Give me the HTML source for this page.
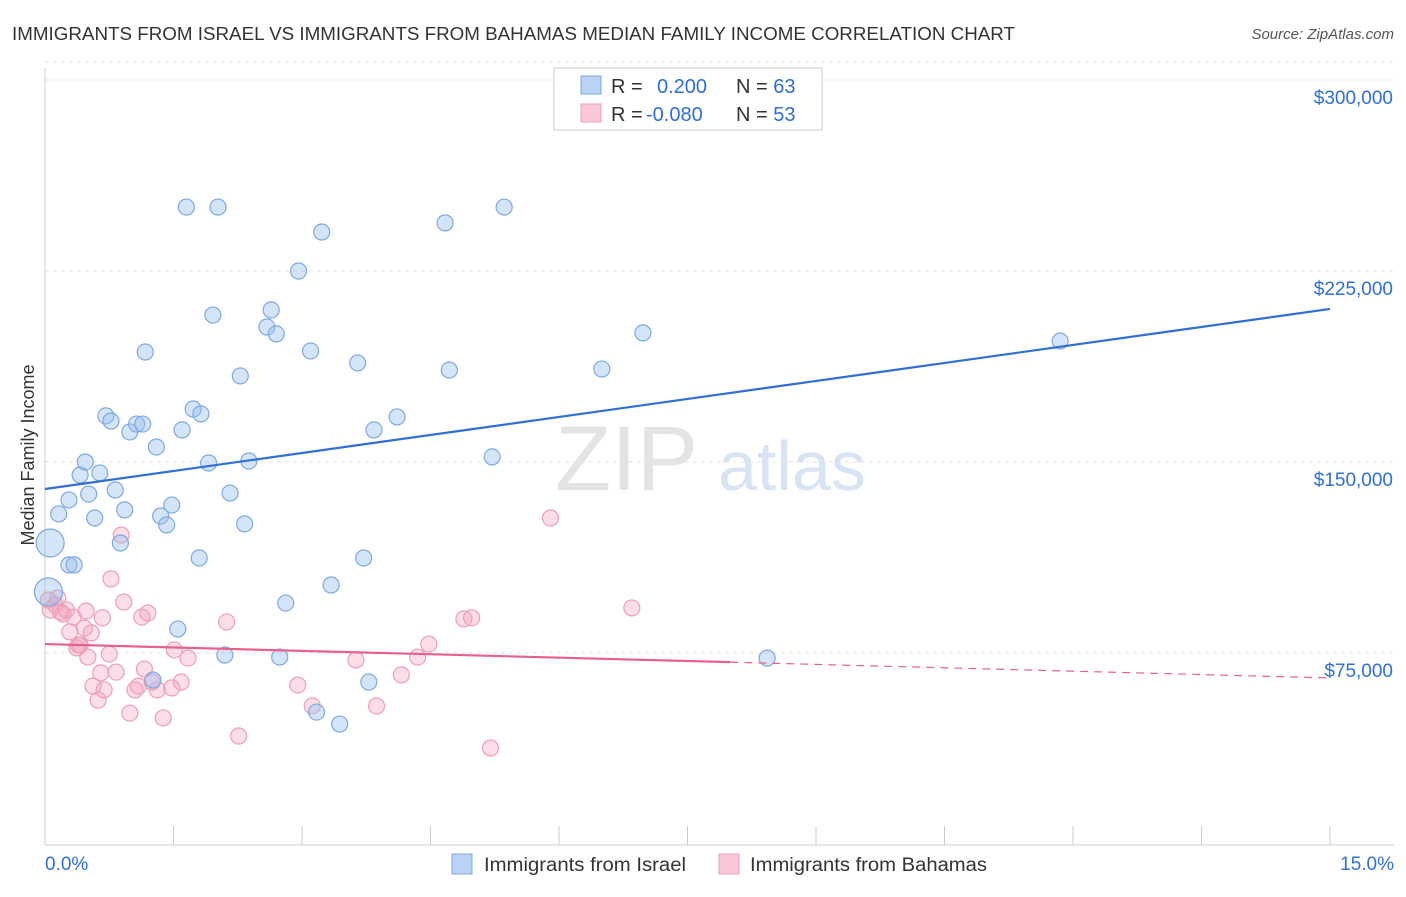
<!DOCTYPE html>
<html><head><meta charset="utf-8"><style>
body{margin:0;background:#fff;font-family:"Liberation Sans",sans-serif}
svg text{font-family:"Liberation Sans",sans-serif}
</style></head><body>
<svg id="c" width="1406" height="892">
<text x="12" y="40" font-size="18" fill="#333" textLength="1003" lengthAdjust="spacingAndGlyphs">IMMIGRANTS FROM ISRAEL VS IMMIGRANTS FROM BAHAMAS MEDIAN FAMILY INCOME CORRELATION CHART</text>
<text x="1394" y="39" font-size="15" fill="#555" font-style="italic" text-anchor="end">Source: ZipAtlas.com</text>
<text x="555" y="490" font-size="92" fill="#e4e4e4" font-family="Liberation Serif">ZIP</text>
<text x="718" y="490" font-size="70" fill="#d8e4f3">atlas</text>
<text transform="translate(34,455) rotate(-90)" font-size="18" fill="#333" text-anchor="middle">Median Family Income</text>
<g id="grid"></g><g id="pts"></g><g id="lines"></g>
<g>
<rect x="554" y="68" width="268" height="62" fill="#fff" stroke="#ccc"/>
<rect x="581" y="76" width="20" height="18" fill="#b9d3f4" stroke="#7ea9e0"/>
<rect x="581" y="104" width="20" height="18" fill="#f9c8d7" stroke="#ee9fb8"/>
<text x="611" y="93" font-size="20" fill="#333">R = <tspan fill="#2f6fd6" x="657">0.200</tspan><tspan x="736" fill="#333">N = </tspan><tspan fill="#2f6fd6">63</tspan></text>
<text x="611" y="121" font-size="20" fill="#333">R = <tspan fill="#2f6fd6" x="646">-0.080</tspan><tspan x="736" fill="#333">N = </tspan><tspan fill="#2f6fd6">53</tspan></text>
</g>
<g>
<rect x="452" y="854" width="20" height="20" fill="#b9d3f4" stroke="#7ea9e0"/>
<text x="484" y="871" font-size="19" fill="#333" textLength="202" lengthAdjust="spacingAndGlyphs">Immigrants from Israel</text>
<rect x="719" y="854" width="20" height="20" fill="#f9c8d7" stroke="#ee9fb8"/>
<text x="750" y="871" font-size="19" fill="#333" textLength="237" lengthAdjust="spacingAndGlyphs">Immigrants from Bahamas</text>
</g>
</svg>
<script>
const israelX=[0.06,0.04,0.16,0.28,0.28,0.34,0.41,0.47,0.51,0.58,0.64,0.71,0.77,0.82,0.88,0.93,0.99,1.07,1.14,1.17,1.30,1.35,1.42,1.48,1.55,1.60,1.65,1.73,1.80,1.82,1.91,1.96,2.02,2.10,2.16,2.28,2.33,2.38,2.59,2.64,2.70,2.74,2.81,2.96,3.10,3.17,3.23,3.34,3.44,3.65,3.72,3.78,3.84,4.11,4.67,4.72,5.22,5.36,6.50,6.98,8.43,11.85,1.26];
const israelY=[118200,99000,129600,135100,109600,109600,144900,150000,137400,128000,145700,168100,166100,139000,118200,131200,161800,164900,164900,193200,155900,128800,125300,133100,84400,162600,250100,170800,112300,168900,149600,207700,250100,74200,137800,183800,125700,150400,203000,209700,200300,73400,94600,225000,193600,51800,240300,101700,47100,188900,112300,63600,162600,167700,243900,186100,152000,250100,186500,200700,73000,197500,64400];
const bahamasX=[0.04,0.06,0.12,0.15,0.21,0.25,0.29,0.33,0.37,0.41,0.46,0.48,0.50,0.54,0.56,0.62,0.65,0.67,0.69,0.75,0.77,0.83,0.89,0.92,0.99,1.05,1.09,1.13,1.16,1.20,1.25,1.31,1.38,1.48,1.51,1.59,1.67,2.12,2.26,2.95,3.12,3.63,3.87,4.16,4.35,4.48,4.89,4.98,5.20,5.90,6.85,0.18,0.39];
const bahamasY=[95800,91900,93900,96600,90300,91900,83300,89100,77000,78100,84800,91500,73400,82900,62000,56500,67200,88800,60500,74600,104100,67500,121300,95000,51400,60500,62000,89100,68700,90700,63600,60500,49500,61300,76200,63600,73000,87200,42400,62400,54200,72300,54200,66400,73400,78500,88400,88800,37700,128000,92700,91100,78100];
const yTicks=[75000,150000,225000,300000];
const yTickLabels=["$75,000","$150,000","$225,000","$300,000"];
const xTicks=[0,1.5,3,4.5,6,7.5,9,10.5,12,13.5,15];
const israelTrend=[139400,210100];
const bahamasTrend=[78500,65200];
const bahamasSolidEnd=8.0;
const NS="http://www.w3.org/2000/svg";
const X=v=>45+v/15*1285, Y=v=>844-v/75000*191;
function mk(p,t,a){const e=document.createElementNS(NS,t);for(const k in a)e.setAttribute(k,a[k]);p.appendChild(e);return e;}
const g=document.getElementById('grid');
yTicks.forEach((t,i)=>{
 const l=mk(g,'line',{x1:45,x2:1394,y1:Y(t),y2:Y(t),stroke:'#e2e2e2','stroke-dasharray':'4,4'});
 
 
 const tx=mk(g,'text',{x:1393,y:Y(t)+24,'font-size':19,fill:'#2f6fd6','text-anchor':'end'});
 tx.textContent=yTickLabels[i];
 
 
});
mk(g,'line',{x1:45,x2:1394,y1:Y(300000)-18,y2:Y(300000)-18,stroke:'#e2e2e2','stroke-dasharray':'4,4'});
mk(g,'line',{x1:45,x2:45,y1:68,y2:845,stroke:'#ccc'});
mk(g,'line',{x1:45,x2:1394,y1:845,y2:845,stroke:'#ccc'});
xTicks.forEach(t=>{const l=mk(g,'line',{x1:X(t),x2:X(t),y1:826,y2:845,stroke:'#ccc'});
 
 });
let a=mk(g,'text',{x:45,y:870,'font-size':19,fill:'#2f6fd6'});a.textContent='0.0%';


a=mk(g,'text',{x:1394,y:870,'font-size':19,fill:'#2f6fd6','text-anchor':'end'});a.textContent='15.0%';


const p=document.getElementById('pts');
bahamasX.forEach((x,i)=>{const c=mk(p,'circle',{cx:X(x),cy:Y(bahamasY[i]),r:8,fill:'rgba(244,160,188,0.35)',stroke:'#ee9fb8','stroke-width':1.2});
 
 });
israelX.forEach((x,i)=>{const big=i<2;const c=mk(p,'circle',{cx:X(x),cy:Y(israelY[i]),r:big?14:8,fill:'rgba(150,190,240,0.4)',stroke:'#7ea9e0','stroke-width':1.2});
 
 });
const L=document.getElementById('lines');
let t=mk(L,'line',{x1:X(0),y1:Y(israelTrend[0]),x2:X(15),y2:Y(israelTrend[1]),stroke:'#2f6fd6','stroke-width':2.2});


const by=v=>bahamasTrend[0]+(bahamasTrend[1]-bahamasTrend[0])*v/15;
t=mk(L,'line',{x1:X(0),y1:Y(by(0)),x2:X(bahamasSolidEnd),y2:Y(by(bahamasSolidEnd)),stroke:'#e8608e','stroke-width':2.2});


t=mk(L,'line',{x1:X(bahamasSolidEnd),y1:Y(by(bahamasSolidEnd)),x2:X(15),y2:Y(by(15)),stroke:'#e8608e','stroke-width':1.2,'stroke-dasharray':'8,6'});


</script>
</body></html>
